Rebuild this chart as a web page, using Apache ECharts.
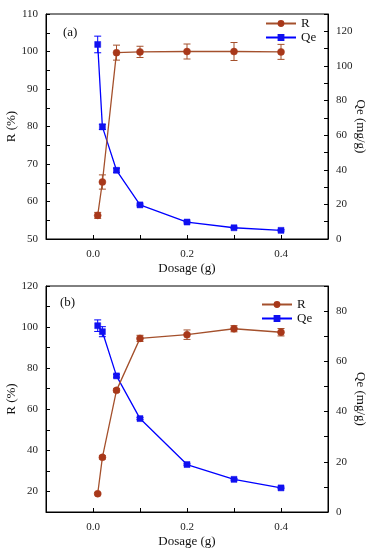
<!DOCTYPE html>
<html>
<head>
<meta charset="utf-8">
<script src="https://cdn.jsdelivr.net/npm/echarts@6/dist/echarts.min.js"></script>
<style>html,body{margin:0;padding:0;background:#fff;}#c{width:371px;height:550px;}</style>
</head>
<body>
<div id="c"></div>
<script>
const dosage = [0.01, 0.02, 0.05, 0.1, 0.2, 0.3, 0.4];
const rA = [56.3, 65.2, 99.7, 99.9, 100.0, 100.0, 99.9];
const rAErr = [0.8, 1.9, 2.0, 1.5, 2.0, 2.4, 2.0];
const qeA = [112.4, 64.8, 39.7, 19.7, 9.8, 6.5, 5.0];
const qeAErr = [4.8, 1.5, 1.2, 0.5, 0.5, 0.4, 0.4];
const rB = [18.9, 36.6, 69.2, 94.5, 96.3, 99.2, 97.5];
const rBErr = [0.5, 0.8, 0.8, 1.5, 2.3, 1.5, 1.8];
const qeB = [74.2, 71.8, 54.2, 37.2, 18.9, 13.0, 9.6];
const qeBErr = [2.3, 2.0, 0.5, 0.4, 0.3, 0.3, 0.3];
const xTickLabels = ['0.0', '0.2', '0.4'];

const FONT = '"Liberation Serif", "Times New Roman", serif';
const RLINE = '#a4502c';
const RMARK = '#a8381a';
const QCOL = '#0000ff';

function pairs(xs, ys) { return xs.map((x, i) => [x, ys[i]]); }
function triples(xs, ys, es) { return xs.map((x, i) => [x, ys[i], es[i]]); }

function errItem(color) {
  return function (params, api) {
    const x = api.value(0), y = api.value(1), e = api.value(2);
    const hi = api.coord([x, y + e]);
    const lo = api.coord([x, y - e]);
    const w = 3.5;
    const st = { stroke: color, lineWidth: 1 };
    return {
      type: 'group',
      children: [
        { type: 'line', shape: { x1: hi[0], y1: hi[1], x2: lo[0], y2: lo[1] }, style: st },
        { type: 'line', shape: { x1: hi[0] - w, y1: hi[1], x2: hi[0] + w, y2: hi[1] }, style: st },
        { type: 'line', shape: { x1: lo[0] - w, y1: lo[1], x2: lo[0] + w, y2: lo[1] }, style: st }
      ]
    };
  };
}

const axisLineStyle = { show: true, onZero: false, lineStyle: { color: '#000', width: 1 } };
const labelStyle = { color: '#222', fontFamily: FONT, fontSize: 11 };
const nameStyle = { color: '#111', fontFamily: FONT, fontSize: 13 };

function xAxisDef(gi) {
  return {
    type: 'value', gridIndex: gi, min: -0.1, max: 0.5, interval: 0.1,
    axisLine: axisLineStyle,
    axisTick: { show: true, inside: true, length: 4, lineStyle: { color: '#000' } },
    axisLabel: Object.assign({}, labelStyle, {
      margin: 10,
      formatter: function (v) {
        const k = Math.round(v * 10);
        if (k >= 0 && k % 2 === 0 && k <= 4) return xTickLabels[k / 2];
        return '';
      }
    }),
    splitLine: { show: false },
    name: 'Dosage (g)', nameLocation: 'middle', nameGap: 23, nameMoveOverlap: false, nameTextStyle: nameStyle
  };
}

function yAxisDef(gi, pos, min, max, interval, labelStep, labelMin, labelMax, name, gap, rot) {
  return {
    type: 'value', gridIndex: gi, position: pos, min: min, max: max, interval: interval,
    axisLine: axisLineStyle,
    axisTick: { show: true, inside: true, length: 4, lineStyle: { color: '#000' } },
    minorTick: { show: false },
    axisLabel: Object.assign({}, labelStyle, {
      margin: 8,
      showMaxLabel: true,
      formatter: function (v) {
        const r = Math.round(v);
        if (r >= labelMin && r <= labelMax && (r - labelMin) % labelStep === 0) return String(r);
        return '';
      }
    }),
    splitLine: { show: false },
    name: name, nameLocation: 'middle', nameGap: gap, nameRotate: rot, nameMoveOverlap: false, nameTextStyle: nameStyle
  };
}

function lineSeries(name, xi, yi, data, color, markColor, symbol, size) {
  return {
    name: name, type: 'line', xAxisIndex: xi, yAxisIndex: yi, data: data,
    symbol: symbol, symbolSize: size, showSymbol: true,
    lineStyle: { color: color, width: 1.3 },
    itemStyle: { color: markColor, borderColor: markColor, borderWidth: 0.5 },
    emphasis: { disabled: true }, z: 3
  };
}

function errSeries(xi, yi, data, color) {
  return {
    name: 'err', type: 'custom', xAxisIndex: xi, yAxisIndex: yi, data: data,
    renderItem: errItem(color), encode: { x: 0, y: 1 }, z: 2, silent: true
  };
}

const legendBase = {
  orient: 'vertical', itemWidth: 30, itemHeight: 6, itemGap: 1, padding: 0,
  textStyle: { fontFamily: FONT, fontSize: 13, color: '#111', lineHeight: 13 },
  data: ['R', 'Qe'], selectedMode: false
};

const gridBase = { left: 46, right: 43, show: true, borderColor: '#000', borderWidth: 1, backgroundColor: 'transparent', containLabel: false, outerBoundsMode: 'none' };

const option = {
  animation: false,
  backgroundColor: '#fff',
  grid: [
    Object.assign({}, gridBase, { top: 14, height: 225 }),
    Object.assign({}, gridBase, { top: 286, height: 226 })
  ],
  xAxis: [xAxisDef(0), xAxisDef(1)],
  yAxis: [
    yAxisDef(0, 'left', 50, 110, 5, 10, 50, 110, 'R (%)', 28, 90),
    yAxisDef(0, 'right', 0, 130, 10, 20, 0, 120, 'Qe (mg/g)', 26, -90),
    yAxisDef(1, 'left', 10, 120, 10, 20, 20, 120, 'R (%)', 28, 90),
    yAxisDef(1, 'right', 0, 90, 10, 20, 0, 80, 'Qe (mg/g)', 26, -90)
  ],
  legend: [
    Object.assign({}, legendBase, { left: 265, top: 17 }),
    Object.assign({}, legendBase, { left: 261, top: 298 })
  ],
  graphic: [
    { type: 'text', left: 63, top: 26, style: { text: '(a)', font: '13px ' + FONT, fill: '#111' } },
    { type: 'text', left: 60, top: 296, style: { text: '(b)', font: '13px ' + FONT, fill: '#111' } }
  ],
  series: [
    errSeries(0, 1, triples(dosage, qeA, qeAErr), QCOL),
    lineSeries('Qe', 0, 1, pairs(dosage, qeA), QCOL, '#1010f0', 'rect', 6),
    errSeries(0, 0, triples(dosage, rA, rAErr), RLINE),
    lineSeries('R', 0, 0, pairs(dosage, rA), RLINE, RMARK, 'circle', 7),
    errSeries(1, 3, triples(dosage, qeB, qeBErr), QCOL),
    lineSeries('Qe', 1, 3, pairs(dosage, qeB), QCOL, '#1010f0', 'rect', 6),
    errSeries(1, 2, triples(dosage, rB, rBErr), RLINE),
    lineSeries('R', 1, 2, pairs(dosage, rB), RLINE, RMARK, 'circle', 7)
  ]
};

const chart = echarts.init(document.getElementById('c'), null, { renderer: 'canvas' });
chart.setOption(option);
</script>
</body>
</html>
